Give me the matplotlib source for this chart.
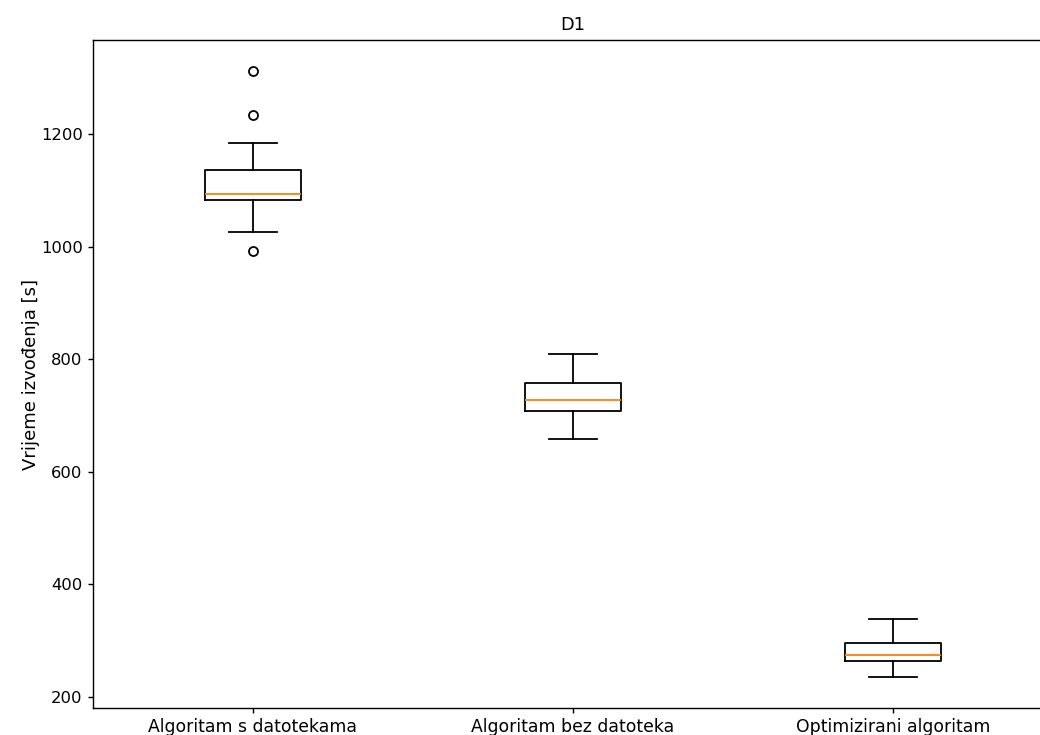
import matplotlib
matplotlib.use("Agg")
import matplotlib.pyplot as plt

labels = ["Algoritam s datotekama", "Algoritam bez datoteka", "Optimizirani algoritam"]
whislo = [1026, 658, 235]
q1 = [1083, 708, 264]
med = [1093, 728, 275]
q3 = [1136, 758, 296]
whishi = [1184, 809, 338]
fliers = [[1312, 1234, 992], [], []]

s = 1.13
plt.rcParams["font.size"] = 10 * s
plt.rcParams["axes.linewidth"] = 0.9 * s
plt.rcParams["xtick.major.width"] = 0.9 * s
plt.rcParams["ytick.major.width"] = 0.9 * s
plt.rcParams["xtick.major.size"] = 3.5 * s
plt.rcParams["ytick.major.size"] = 3.5 * s

stats = []
for i in range(len(labels)):
    stats.append(dict(label=labels[i], whislo=whislo[i], q1=q1[i], med=med[i],
                      q3=q3[i], whishi=whishi[i], fliers=fliers[i]))

fig = plt.figure(figsize=(10.4, 7.35), dpi=100)
ax = fig.add_axes([93 / 1040, 27 / 735, 960 / 1040, 668 / 735])
lw = 1.3
ax.bxp(stats, widths=0.3,
       boxprops=dict(linewidth=lw),
       whiskerprops=dict(linewidth=lw),
       capprops=dict(linewidth=lw),
       medianprops=dict(linewidth=lw, color="#ff7f0e"),
       flierprops=dict(marker="o", markersize=6.5, markerfacecolor="none",
                       markeredgecolor="black", markeredgewidth=lw))
ax.set_ylim(180.5, 1367)
ax.set_xlim(0.5, 3.5)
ax.set_yticks([200, 400, 600, 800, 1000, 1200])
ax.tick_params(axis="y", labelsize=11.8)
ax.tick_params(axis="x", labelsize=12.4)
ax.set_ylabel("Vrijeme izvođenja [s]", fontsize=13.0, labelpad=0.8)
ax.set_title("D1", fontsize=12.8, pad=7)
fig.savefig("out.png", dpi=100)
